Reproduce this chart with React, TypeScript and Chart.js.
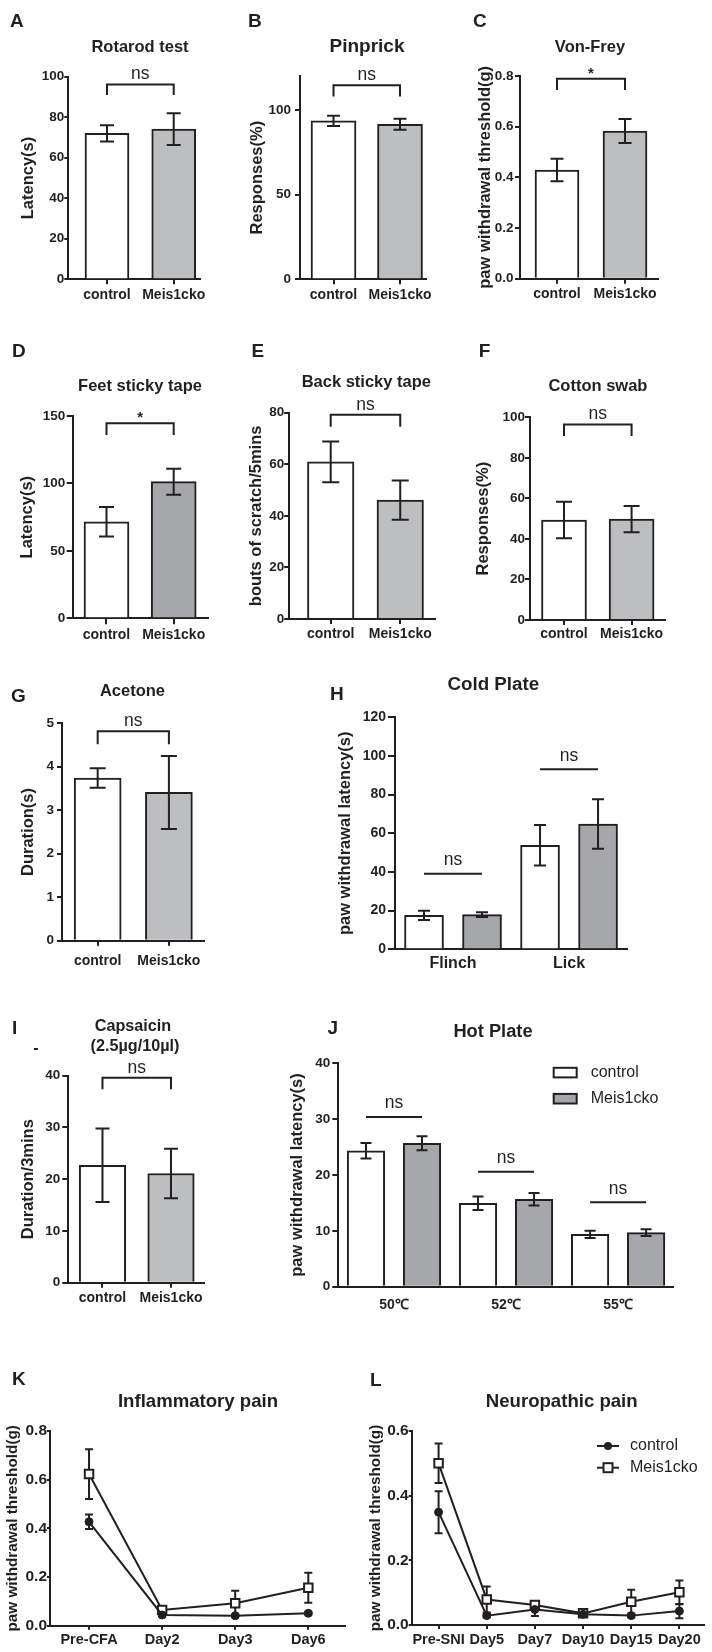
import React, { useEffect, useRef } from 'react';
import { Chart, registerables } from 'chart.js';

Chart.register(...registerables);

const PAGE_W = 712;
const PAGE_H = 1652;
const FONT = '"Liberation Sans", Arial, Helvetica, sans-serif';
const INK = '#231f20';
const WHITE = '#ffffff';
const LIGHT = '#bdbec0';
const DARK = '#a6a7aa';

Chart.defaults.font.family = FONT;
Chart.defaults.color = INK;

// ---------------- data ----------------
const groupLabels = ['control', 'Meis1cko'];

const rotarodMean = [72.0, 74.1];
const rotarodErr = [4.0, 7.8];

const pinprickMean = [93.5, 91.5];
const pinprickErr = [3.0, 3.2];

const vonFreyMean = [0.429, 0.583];
const vonFreyErr = [0.044, 0.047];

const feetTapeMean = [71.6, 101.3];
const feetTapeErr = [11.0, 9.6];

const backTapeMean = [60.9, 46.1];
const backTapeErr = [7.9, 7.6];

const cottonMean = [49.3, 49.8];
const cottonErr = [9.0, 6.5];

const acetoneMean = [3.74, 3.41];
const acetoneErr = [0.225, 0.84];

const coldGroups = ['Flinch', 'Lick'];
const coldControl = [17.6, 53.8];
const coldControlErr = [2.4, 10.5];
const coldMeis = [17.9, 64.8];
const coldMeisErr = [1.2, 12.8];

const capsaicinMean = [22.7, 21.1];
const capsaicinErr = [7.1, 4.8];

const hotGroups = ['50℃', '52℃', '55℃'];
const hotControl = [24.35, 14.93, 9.38];
const hotControlErr = [1.4, 1.2, 0.65];
const hotMeis = [25.68, 15.65, 9.67];
const hotMeisErr = [1.25, 1.13, 0.6];

const cfaDays = ['Pre-CFA', 'Day2', 'Day3', 'Day6'];
const cfaControl = [0.427, 0.044, 0.041, 0.051];
const cfaControlErr = [0.03, 0.005, 0.005, 0.005];
const cfaMeis = [0.623, 0.065, 0.092, 0.156];
const cfaMeisErr = [0.102, 0.01, 0.052, 0.062];

const sniDays = ['Pre-SNI', 'Day5', 'Day7', 'Day10', 'Day15', 'Day20'];
const sniControl = [0.349, 0.029, 0.048, 0.033, 0.029, 0.043];
const sniControlErr = [0.065, 0.005, 0.02, 0.005, 0.005, 0.022];
const sniMeis = [0.5, 0.079, 0.062, 0.036, 0.072, 0.101];
const sniMeisErr = [0.061, 0.04, 0.01, 0.005, 0.037, 0.037];

const seriesNames = ['control', 'Meis1cko'];

// ---------------- dataset builders ----------------
function twoBar(means: number[], errs: number[], fill: string, thick: number) {
  return {
    type: 'bar',
    data: means.map((m, i) => ({ x: i, y: m })),
    errors: errs,
    backgroundColor: means.map((_, i) => (i === 0 ? WHITE : fill)),
    borderColor: INK,
    borderWidth: 2,
    borderSkipped: 'start',
    barThickness: thick,
  };
}

function groupedBar(ctrl: number[], ctrlErr: number[], meis: number[], meisErr: number[], fill: string, thick: number) {
  const data: any[] = [];
  const errors: number[] = [];
  const colors: string[] = [];
  ctrl.forEach((v, i) => {
    data.push({ x: i - 0.25, y: v });
    errors.push(ctrlErr[i]);
    colors.push(WHITE);
    data.push({ x: i + 0.25, y: meis[i] });
    errors.push(meisErr[i]);
    colors.push(fill);
  });
  return {
    type: 'bar',
    data,
    errors,
    backgroundColor: colors,
    borderColor: INK,
    borderWidth: 2,
    borderSkipped: 'start',
    barThickness: thick,
  };
}

function lineSets(ctrl: number[], ctrlErr: number[], meis: number[], meisErr: number[]) {
  return [
    {
      type: 'line',
      label: seriesNames[0],
      data: ctrl.map((v, i) => ({ x: i, y: v })),
      errors: ctrlErr,
      borderColor: INK,
      borderWidth: 2,
      pointStyle: 'circle',
      pointRadius: 4,
      pointBackgroundColor: INK,
      pointBorderColor: INK,
      pointBorderWidth: 1,
      tension: 0,
      fill: false,
    },
    {
      type: 'line',
      label: seriesNames[1],
      data: meis.map((v, i) => ({ x: i, y: v })),
      errors: meisErr,
      borderColor: INK,
      borderWidth: 2,
      pointStyle: 'rect',
      pointRadius: 6,
      pointBackgroundColor: WHITE,
      pointBorderColor: INK,
      pointBorderWidth: 2,
      tension: 0,
      fill: false,
    },
  ];
}

// ---------------- panel specs ----------------
type Sig = { from: number; to: number; top: number; drop?: number; text: string };
type Title = { text: string; x: number; y: number; size: number };

interface Spec {
  id: string;
  kind: 'bar' | 'line';
  letter: string; letterX: number; letterY: number;
  titles: Title[];
  yTitle: string; yTitleCx: number; yTitleSize: number;
  axisX: number; axisEnd: number; yTop: number; yZero: number;
  yMax: number; yTicks: number[]; yDec: number;
  yTickSize: number; yTickLen: number; yTickPad: number;
  xMin: number; xMax: number; xTicks: number[]; xLabels: string[];
  xTickSize: number; xTickLen: number; xLabelOffset: number;
  datasets: () => any[];
  cap: number;
  sigs: Sig[];
  legend?: 'boxes' | 'lines';
  extra?: 'dash';
}

const barBase = { kind: 'bar' as const, yTitleSize: 16.5, yTickSize: 13.5, xTickSize: 14, xTickLen: 5 };

const specs: Spec[] = [
  {
    ...barBase, id: 'A', letter: 'A', letterX: 10, letterY: 21.5,
    titles: [{ text: 'Rotarod test', x: 140, y: 47, size: 16.5 }],
    yTitle: 'Latency(s)', yTitleCx: 28,
    axisX: 68.3, axisEnd: 200, yTop: 76.7, yZero: 279.3, yMax: 100, yTicks: [0, 20, 40, 60, 80, 100], yDec: 0,
    yTickLen: 4, yTickPad: 0,
    xMin: -0.58, xMax: 1.394, xTicks: [0, 1], xLabels: groupLabels, xLabelOffset: 15.7,
    datasets: () => [twoBar(rotarodMean, rotarodErr, LIGHT, 44)], cap: 14,
    sigs: [{ from: 0, to: 1, top: 96.2, drop: 91, text: 'ns' }],
  },
  {
    ...barBase, id: 'B', letter: 'B', letterX: 248, letterY: 21.5,
    titles: [{ text: 'Pinprick', x: 367, y: 47, size: 19 }],
    yTitle: 'Responses(%)', yTitleCx: 257,
    axisX: 300, axisEnd: 426, yTop: 76, yZero: 279.3, yMax: 120, yTicks: [0, 50, 100], yDec: 0,
    yTickLen: 5, yTickPad: 4,
    xMin: -0.504, xMax: 1.391, xTicks: [0, 1], xLabels: groupLabels, xLabelOffset: 15.7,
    datasets: () => [twoBar(pinprickMean, pinprickErr, LIGHT, 45)], cap: 13,
    sigs: [{ from: 0, to: 1, top: 114.6, drop: 107.9, text: 'ns' }],
  },
  {
    ...barBase, id: 'C', letter: 'C', letterX: 473, letterY: 21.5,
    titles: [{ text: 'Von-Frey', x: 590, y: 47, size: 16.5 }],
    yTitle: 'paw withdrawal threshold(g)', yTitleCx: 485,
    axisX: 520, axisEnd: 658, yTop: 76, yZero: 278.7, yMax: 0.8, yTicks: [0, 0.2, 0.4, 0.6, 0.8], yDec: 1,
    yTickLen: 5, yTickPad: 1.5,
    xMin: -0.544, xMax: 1.485, xTicks: [0, 1], xLabels: groupLabels, xLabelOffset: 15.7,
    datasets: () => [twoBar(vonFreyMean, vonFreyErr, LIGHT, 44)], cap: 13,
    sigs: [{ from: 0, to: 1, top: 0.789, drop: 0.745, text: '*' }],
  },
  {
    ...barBase, id: 'D', letter: 'D', letterX: 12, letterY: 352,
    titles: [{ text: 'Feet sticky tape', x: 140, y: 386.7, size: 16.5 }],
    yTitle: 'Latency(s)', yTitleCx: 27,
    axisX: 72.7, axisEnd: 208.3, yTop: 416, yZero: 618.3, yMax: 150, yTicks: [0, 50, 100, 150], yDec: 0,
    yTickLen: 6, yTickPad: 1.5,
    xMin: -0.503, xMax: 1.515, xTicks: [0, 1], xLabels: groupLabels, xLabelOffset: 16.7, xTickLen: 6,
    datasets: () => [twoBar(feetTapeMean, feetTapeErr, DARK, 45)], cap: 15,
    sigs: [{ from: 0, to: 1, top: 144.6, drop: 135.9, text: '*' }],
  },
  {
    ...barBase, id: 'E', letter: 'E', letterX: 251.6, letterY: 352,
    titles: [{ text: 'Back sticky tape', x: 366.3, y: 382, size: 16.5 }],
    yTitle: 'bouts of scratch/5mins', yTitleCx: 256,
    axisX: 289.2, axisEnd: 435, yTop: 412.7, yZero: 619, yMax: 80, yTicks: [0, 20, 40, 60, 80], yDec: 0,
    yTickLen: 5, yTickPad: 0,
    xMin: -0.597, xMax: 1.5, xTicks: [0, 1], xLabels: groupLabels, xLabelOffset: 15,
    datasets: () => [twoBar(backTapeMean, backTapeErr, LIGHT, 46.5)], cap: 17,
    sigs: [{ from: 0, to: 1, top: 79.2, drop: 74.6, text: 'ns' }],
  },
  {
    ...barBase, id: 'F', letter: 'F', letterX: 478.7, letterY: 352,
    titles: [{ text: 'Cotton swab', x: 597.9, y: 386.7, size: 16.5 }],
    yTitle: 'Responses(%)', yTitleCx: 483,
    axisX: 530, axisEnd: 664.5, yTop: 417.3, yZero: 620, yMax: 100, yTicks: [0, 20, 40, 60, 80, 100], yDec: 0,
    yTickLen: 5, yTickPad: 0,
    xMin: -0.503, xMax: 1.487, xTicks: [0, 1], xLabels: groupLabels, xLabelOffset: 14.5,
    datasets: () => [twoBar(cottonMean, cottonErr, LIGHT, 45)], cap: 16,
    sigs: [{ from: 0, to: 1, top: 96.5, drop: 90.8, text: 'ns' }],
  },
  {
    ...barBase, id: 'G', letter: 'G', letterX: 11, letterY: 696.5,
    titles: [{ text: 'Acetone', x: 132.5, y: 691.7, size: 16.5 }],
    yTitle: 'Duration(s)', yTitleCx: 28.4,
    axisX: 62, axisEnd: 204, yTop: 723.3, yZero: 940.7, yMax: 5, yTicks: [0, 1, 2, 3, 4, 5], yDec: 0,
    yTickLen: 5, yTickPad: 3,
    xMin: -0.501, xMax: 1.493, xTicks: [0, 1], xLabels: groupLabels, xLabelOffset: 20,
    datasets: () => [twoBar(acetoneMean, acetoneErr, LIGHT, 47)], cap: 16,
    sigs: [{ from: 0, to: 1, top: 4.82, drop: 4.52, text: 'ns' }],
  },
  {
    ...barBase, id: 'H', letter: 'H', letterX: 330, letterY: 695,
    titles: [{ text: 'Cold Plate', x: 493.3, y: 685, size: 18.8 }],
    yTitle: 'paw withdrawal latency(s)', yTitleCx: 345,
    axisX: 395, axisEnd: 626.7, yTop: 717.3, yZero: 949.3, yMax: 120, yTicks: [0, 20, 40, 60, 80, 100, 120], yDec: 0,
    yTickLen: 7, yTickPad: 2, yTickSize: 14,
    xMin: -0.5, xMax: 1.497, xTicks: [0, 1], xLabels: coldGroups, xLabelOffset: 14, xTickLen: 0, xTickSize: 16,
    datasets: () => [groupedBar(coldControl, coldControlErr, coldMeis, coldMeisErr, DARK, 39)], cap: 12,
    sigs: [
      { from: -0.25, to: 0.25, top: 39.1, text: 'ns' },
      { from: 0.75, to: 1.25, top: 93.1, text: 'ns' },
    ],
  },
  {
    ...barBase, id: 'I', letter: 'I', letterX: 12, letterY: 1029,
    titles: [
      { text: 'Capsaicin', x: 133, y: 1026.7, size: 16.2 },
      { text: '(2.5µg/10µl)', x: 135, y: 1046.7, size: 16.2 },
    ],
    yTitle: 'Duration/3mins', yTitleCx: 28.3,
    axisX: 68.3, axisEnd: 204, yTop: 1075.7, yZero: 1282.7, yMax: 40, yTicks: [0, 10, 20, 30, 40], yDec: 0,
    yTickLen: 6, yTickPad: 2,
    xMin: -0.499, xMax: 1.482, xTicks: [0, 1], xLabels: groupLabels, xLabelOffset: 15.3,
    datasets: () => [twoBar(capsaicinMean, capsaicinErr, LIGHT, 46.5)], cap: 14,
    sigs: [{ from: 0, to: 1, top: 39.6, drop: 37.4, text: 'ns' }],
    extra: 'dash',
  },
  {
    ...barBase, id: 'J', letter: 'J', letterX: 327.4, letterY: 1028.5,
    titles: [{ text: 'Hot Plate', x: 493, y: 1032, size: 18.3 }],
    yTitle: 'paw withdrawal latency(s)', yTitleCx: 297.6,
    axisX: 338.3, axisEnd: 673, yTop: 1063.3, yZero: 1286.7, yMax: 40, yTicks: [0, 10, 20, 30, 40], yDec: 0,
    yTickLen: 6, yTickPad: 2,
    xMin: -0.497, xMax: 2.49, xTicks: [0, 1, 2], xLabels: hotGroups, xLabelOffset: 18.3, xTickLen: 0,
    datasets: () => [groupedBar(hotControl, hotControlErr, hotMeis, hotMeisErr, DARK, 37.5)], cap: 11,
    sigs: [
      { from: -0.25, to: 0.25, top: 30.4, text: 'ns' },
      { from: 0.75, to: 1.25, top: 20.6, text: 'ns' },
      { from: 1.75, to: 2.25, top: 15.1, text: 'ns' },
    ],
    legend: 'boxes',
  },
  {
    id: 'K', kind: 'line', letter: 'K', letterX: 12, letterY: 1380,
    titles: [{ text: 'Inflammatory pain', x: 198, y: 1402, size: 18.6 }],
    yTitle: 'paw withdrawal threshold(g)', yTitleCx: 12.5, yTitleSize: 15.3,
    axisX: 50, axisEnd: 345, yTop: 1431, yZero: 1625.7, yMax: 0.8, yTicks: [0, 0.2, 0.4, 0.6, 0.8], yDec: 1,
    yTickSize: 15.5, yTickLen: 3, yTickPad: 0,
    xMin: -0.534, xMax: 3.502, xTicks: [0, 1, 2, 3], xLabels: cfaDays, xTickSize: 14.5, xTickLen: 4, xLabelOffset: 14.3,
    datasets: () => lineSets(cfaControl, cfaControlErr, cfaMeis, cfaMeisErr), cap: 8,
    sigs: [],
  },
  {
    id: 'L', kind: 'line', letter: 'L', letterX: 370, letterY: 1381,
    titles: [{ text: 'Neuropathic pain', x: 561.7, y: 1402, size: 18.6 }],
    yTitle: 'paw withdrawal threshold(g)', yTitleCx: 375.5, yTitleSize: 15.3,
    axisX: 411.7, axisEnd: 708.3, yTop: 1431, yZero: 1625, yMax: 0.6, yTicks: [0, 0.2, 0.4, 0.6], yDec: 1,
    yTickSize: 15.5, yTickLen: 3, yTickPad: 0,
    xMin: -0.558, xMax: 5.511, xTicks: [0, 1, 2, 3, 4, 5], xLabels: sniDays, xTickSize: 14.5, xTickLen: 4, xLabelOffset: 15,
    datasets: () => lineSets(sniControl, sniControlErr, sniMeis, sniMeisErr), cap: 8,
    sigs: [],
    legend: 'lines',
  },
];

// ---------------- drawing helpers ----------------
function put(ctx: CanvasRenderingContext2D, str: string, x: number, y: number, size: number, weight: string,
  align: CanvasTextAlign = 'center', baseline: CanvasTextBaseline = 'middle') {
  ctx.font = `${weight} ${size}px ${FONT}`;
  ctx.fillStyle = INK;
  ctx.textAlign = align;
  ctx.textBaseline = baseline;
  ctx.fillText(str, x, y);
}

function decor(s: Spec) {
  const errorBars = (chart: any) => {
    const ctx: CanvasRenderingContext2D = chart.ctx;
    const xs = chart.scales.x;
    const ys = chart.scales.y;
    ctx.save();
    ctx.strokeStyle = INK;
    ctx.lineWidth = 2;
    ctx.lineCap = 'butt';
    chart.data.datasets.forEach((ds: any) => {
      const errs: number[] = ds.errors;
      if (!errs) return;
      ds.data.forEach((pt: any, i: number) => {
        const e = errs[i];
        if (!e) return;
        const x = xs.getPixelForValue(pt.x);
        const y1 = ys.getPixelForValue(pt.y + e);
        const y2 = ys.getPixelForValue(pt.y - e);
        const h = s.cap / 2;
        ctx.beginPath();
        ctx.moveTo(x, y1); ctx.lineTo(x, y2);
        ctx.moveTo(x - h, y1); ctx.lineTo(x + h, y1);
        ctx.moveTo(x - h, y2); ctx.lineTo(x + h, y2);
        ctx.stroke();
      });
    });
    ctx.restore();
  };

  return {
    id: 'decor' + s.id,
    beforeDatasetsDraw(chart: any) {
      if (s.kind === 'line') errorBars(chart);
    },
    afterDatasetsDraw(chart: any) {
      if (s.kind === 'bar') errorBars(chart);
    },
    afterDraw(chart: any) {
      const ctx: CanvasRenderingContext2D = chart.ctx;
      const xs = chart.scales.x;
      const ys = chart.scales.y;
      ctx.save();
      put(ctx, s.letter, s.letterX, s.letterY, 19, 'bold', 'left');
      s.titles.forEach((t) => put(ctx, t.text, t.x, t.y, t.size, 'bold'));
      if (s.extra === 'dash') put(ctx, '-', 35.8, 1048.5, 16, 'bold');

      ctx.strokeStyle = INK;
      ctx.lineWidth = 2;
      s.sigs.forEach((g) => {
        const x0 = xs.getPixelForValue(g.from);
        const x1 = xs.getPixelForValue(g.to);
        const yT = ys.getPixelForValue(g.top);
        ctx.beginPath();
        if (g.drop !== undefined) {
          const yD = ys.getPixelForValue(g.drop);
          ctx.moveTo(x0, yD); ctx.lineTo(x0, yT); ctx.lineTo(x1, yT); ctx.lineTo(x1, yD);
        } else {
          ctx.moveTo(x0, yT); ctx.lineTo(x1, yT);
        }
        ctx.stroke();
        const cx = (x0 + x1) / 2;
        if (g.text === '*') put(ctx, '*', cx, yT - 1, 15, 'bold', 'center', 'alphabetic');
        else put(ctx, g.text, cx, yT - (g.drop !== undefined ? 5 : 8.5), 17.5, 'normal', 'center', 'alphabetic');
      });

      if (s.legend === 'boxes') {
        const fills = [WHITE, DARK];
        const ys2 = [1072.6, 1098.7];
        seriesNames.forEach((name, i) => {
          ctx.fillStyle = fills[i];
          ctx.fillRect(553.7, ys2[i] - 4.8, 23, 9.6);
          ctx.strokeRect(553.7, ys2[i] - 4.8, 23, 9.6);
          put(ctx, name, 590.7, ys2[i], 16, 'normal', 'left');
        });
      }
      if (s.legend === 'lines') {
        const ys2 = [1446, 1467.7];
        seriesNames.forEach((name, i) => {
          const y = ys2[i];
          ctx.beginPath();
          ctx.moveTo(597, y); ctx.lineTo(619, y);
          ctx.stroke();
          if (i === 0) {
            ctx.fillStyle = INK;
            ctx.beginPath();
            ctx.arc(608, y, 4, 0, Math.PI * 2);
            ctx.fill();
          } else {
            ctx.fillStyle = WHITE;
            ctx.fillRect(603.5, y - 4.5, 9, 9);
            ctx.strokeRect(603.5, y - 4.5, 9, 9);
          }
          put(ctx, name, 630, y, 16, 'normal', 'left');
        });
      }
      ctx.restore();
    },
  };
}

function buildConfig(s: Spec) {
  const padLeft = s.yTitleCx - s.yTitleSize * 0.6;
  const yW = s.axisX - padLeft;
  const XH = Math.min(44, PAGE_H - s.yZero - 0.5);
  const xPad = s.xLabelOffset - s.xTickLen - s.xTickSize * 0.6;
  return {
    type: s.kind === 'bar' ? 'bar' : 'line',
    data: { datasets: s.datasets() },
    options: {
      responsive: false,
      maintainAspectRatio: false,
      animation: false,
      devicePixelRatio: 1,
      events: [],
      layout: {
        padding: { left: padLeft, right: PAGE_W - s.axisEnd, top: s.yTop, bottom: PAGE_H - s.yZero - XH },
      },
      plugins: { legend: { display: false }, title: { display: false }, tooltip: { enabled: false } },
      scales: {
        x: {
          type: 'linear',
          min: s.xMin,
          max: s.xMax,
          offset: false,
          z: 1,
          afterBuildTicks: (sc: any) => { sc.ticks = s.xTicks.map((v) => ({ value: v })); },
          afterFit: (sc: any) => { sc.height = XH; },
          ticks: {
            callback: (v: any) => s.xLabels[Math.round(Number(v))] ?? '',
            font: { size: s.xTickSize, weight: 'bold', family: FONT },
            color: INK,
            padding: xPad,
            maxRotation: 0,
            minRotation: 0,
            autoSkip: false,
          },
          grid: {
            offset: false,
            drawOnChartArea: false,
            drawTicks: s.xTickLen > 0,
            tickLength: s.xTickLen,
            tickWidth: 2,
            tickColor: INK,
            color: INK,
            lineWidth: 2,
          },
          border: { display: true, color: INK, width: 2 },
        },
        y: {
          type: 'linear',
          min: 0,
          max: s.yMax,
          afterBuildTicks: (sc: any) => { sc.ticks = s.yTicks.map((v) => ({ value: v })); },
          afterFit: (sc: any) => { sc.width = yW; },
          ticks: {
            callback: (v: any) => Number(v).toFixed(s.yDec),
            font: { size: s.yTickSize, weight: 'bold', family: FONT },
            color: INK,
            padding: s.yTickPad,
            autoSkip: false,
          },
          grid: {
            drawOnChartArea: false,
            drawTicks: true,
            tickLength: s.yTickLen,
            tickWidth: 2,
            tickColor: INK,
            color: INK,
            lineWidth: 2,
          },
          border: { display: true, color: INK, width: 2 },
          title: {
            display: true,
            text: s.yTitle,
            font: { size: s.yTitleSize, weight: 'bold', family: FONT, lineHeight: 1.2 },
            color: INK,
            padding: 0,
          },
        },
      },
    },
    plugins: [decor(s)],
  };
}

function PanelChart({ spec }: { spec: Spec }) {
  const ref = useRef<HTMLCanvasElement>(null);
  useEffect(() => {
    if (!ref.current) return;
    const chart = new Chart(ref.current, buildConfig(spec) as any);
    return () => chart.destroy();
  }, [spec]);
  return (
    <canvas
      ref={ref}
      width={PAGE_W}
      height={PAGE_H}
      style={{ position: 'absolute', left: 0, top: 0, width: PAGE_W, height: PAGE_H, pointerEvents: 'none' }}
    />
  );
}

export default function App() {
  return (
    <div style={{ position: 'absolute', left: 0, top: 0, width: PAGE_W, height: PAGE_H, background: '#ffffff', overflow: 'hidden' }}>
      {specs.map((s) => (
        <PanelChart key={s.id} spec={s} />
      ))}
    </div>
  );
}
